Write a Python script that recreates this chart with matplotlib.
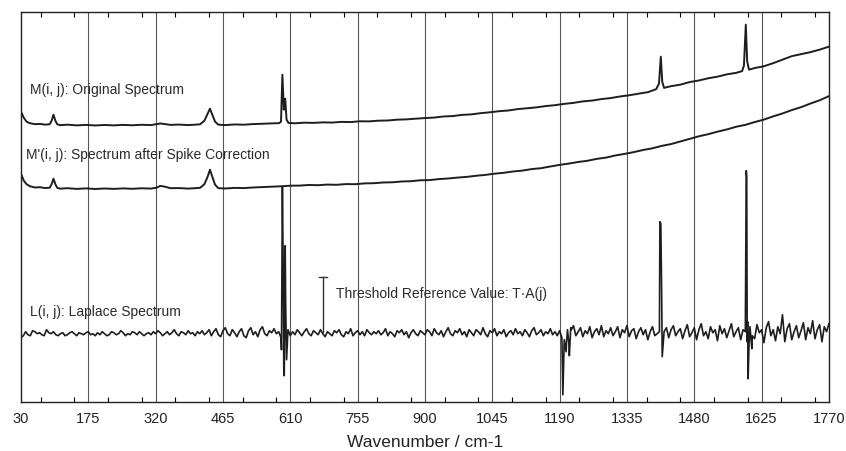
import numpy as np
import matplotlib
matplotlib.use("Agg")
import matplotlib.pyplot as plt
from matplotlib.ticker import MultipleLocator

plt.rcParams['font.family'] = ['Liberation Sans', 'DejaVu Sans']

# x ticks
tick_pos = [30, 175, 320, 465, 610, 755, 900, 1045, 1190, 1335, 1480, 1625, 1770]

# M(i, j): original spectrum (wavenumber, intensity in arbitrary units)
m_wn = [30, 36, 42, 49, 60, 71, 82, 92, 96, 100, 104, 108, 114, 130, 150, 170, 190, 210,
        230, 250, 270, 290, 310, 322, 330, 340, 352, 370, 390, 405, 416, 425, 432, 437,
        442, 448, 455, 470, 490, 510, 530, 550, 570, 586, 590, 593, 596, 599, 602, 606,
        620, 640, 660, 680, 700, 720, 740, 760, 780, 800, 820, 840, 860, 880, 900, 920,
        940, 960, 980, 1000, 1020, 1040, 1060, 1080, 1100, 1120, 1140, 1160, 1180, 1200,
        1220, 1240, 1260, 1280, 1300, 1320, 1340, 1360, 1380, 1398, 1404, 1408, 1411,
        1415, 1430, 1450, 1470, 1490, 1510, 1530, 1550, 1570, 1583, 1587, 1591, 1594,
        1598, 1610, 1630, 1650, 1670, 1690, 1710, 1730, 1750, 1770]
m_val = [290, 284, 280, 278.5, 277.5, 277.8, 277, 277.5, 281, 287, 281, 277.5, 276.5, 277,
         276.3, 276.8, 276.2, 276.7, 276.3, 276.8, 276.4, 276.9, 276.6, 277.5, 278.2, 277.6,
         276.8, 277.1, 276.6, 277, 277.4, 281, 288, 293, 287, 280, 277, 276.6, 277.2, 277,
         277.6, 277.9, 278.3, 278.5, 280, 327, 292, 303, 282, 278.8, 278.4, 279, 278.8,
         279.3, 279.1, 279.8, 279.6, 280.4, 280.3, 281, 281.2, 282, 282.3, 283, 283.6,
         284.1, 285.2, 285.6, 286.8, 287.3, 288.5, 289.4, 290.5, 291.2, 292.6, 293.4, 294.3,
         295.6, 296.5, 297.8, 298.8, 300.3, 301.1, 302.6, 303.6, 305.2, 306.4, 308, 309.5,
         312.5, 318, 345, 320, 313.8, 315.5, 317, 319.6, 321.2, 323.4, 325, 327.3, 328.8,
         330.5, 336, 377, 340, 332, 333.6, 335.4, 338.5, 342, 345.5, 347.5, 349.5, 352, 355]

# M'(i, j): spectrum after spike correction
mc_wn = [30, 36, 42, 49, 60, 71, 82, 92, 96, 100, 104, 108, 114, 130, 150, 170, 190, 210,
         230, 250, 270, 290, 310, 322, 330, 340, 352, 370, 390, 405, 416, 425, 432, 437,
         442, 448, 455, 470, 490, 510, 530, 550, 570, 590, 610, 630, 650, 670, 690, 710,
         730, 750, 770, 790, 810, 830, 850, 870, 890, 910, 930, 950, 970, 990, 1010, 1030,
         1050, 1070, 1090, 1110, 1130, 1150, 1170, 1190, 1210, 1230, 1250, 1270, 1290,
         1310, 1330, 1350, 1370, 1390, 1410, 1430, 1450, 1470, 1490, 1510, 1530, 1550,
         1570, 1590, 1610, 1630, 1650, 1670, 1690, 1710, 1730, 1750, 1770]
mc_val = [228, 221, 217.5, 215.5, 214.2, 214.5, 213.6, 214, 217.5, 223, 217.5, 214, 213,
          213.5, 212.8, 213.3, 212.7, 213.2, 212.8, 213.3, 212.9, 213.4, 213.1, 214, 215.8,
          215, 213.5, 213.6, 213.1, 213.5, 213.9, 217.5, 225, 232, 225, 217, 213.5, 213.2,
          213.8, 213.6, 214.2, 214.6, 215, 215.4, 216, 216.1, 216.7, 216.5, 217.1, 216.9,
          217.6, 217.5, 218.3, 218.5, 219.2, 219.4, 220.2, 220.5, 221.4, 221.6, 222.6,
          223.2, 224.1, 224.8, 225.9, 226.8, 228, 228.9, 230.2, 231.1, 232.6, 233.5, 235.2,
          236.8, 238.1, 239.7, 240.9, 242.8, 244.1, 246.2, 247.8, 249.6, 251.7, 253.4,
          255.8, 257.6, 260.2, 262.8, 265.4, 267.5, 270, 272.2, 274.9, 276.8, 279.6, 282.1,
          285.3, 288.2, 291.6, 294.5, 298.1, 301.4, 305.5]

# L(i, j): Laplace spectrum, sampled every 5 cm-1 from 30 to 1770
lap_wn = list(range(30, 1771, 5))
lap_val = [64, 66, 70, 67, 66, 71, 70, 68, 69, 67, 66, 72, 69, 68,
           70, 67, 66, 68, 69, 66, 67, 69, 70, 68, 66, 69, 68, 67, 69, 70, 67, 68, 66, 69,
           67, 70, 68, 66, 67, 70, 69, 67, 68, 71, 69, 66, 68, 67, 70, 69, 67, 70, 68, 66,
           68, 69, 67, 70, 68, 71, 69, 66, 68, 70, 67, 69, 72, 68, 66, 70, 69, 67, 71, 68,
           69, 66, 70, 68, 71, 67, 69, 72, 66, 70, 73, 67, 65, 71, 74, 68, 66, 72, 69, 65,
           70, 73, 66, 64, 71, 74, 67, 70, 65, 72, 75, 68, 66, 71, 69, 73, 68, 70, 64, 120,
           100, 72, 66, 70, 67, 72, 69, 66, 70, 73, 68, 66, 71, 69, 67, 72, 68, 65, 70, 68,
           66, 71, 69, 72, 67, 65, 70, 68, 73, 66, 69, 71, 67, 70, 66, 72, 69, 67, 70, 68,
           71, 67, 69, 73, 66, 70, 68, 65, 71, 69, 72, 67, 70, 64, 69, 72, 68, 66, 71, 69,
           67, 72, 70, 66, 73, 69, 67, 71, 65, 70, 74, 68, 66, 71, 69, 73, 67, 70, 65, 72,
           69, 66, 72, 70, 67, 74, 68, 65, 71, 69, 73, 66, 70, 68, 72, 65, 69, 71, 67, 73,
           68, 70, 66, 72, 69, 65, 71, 74, 67, 69, 72, 66, 70, 68, 73, 67, 70, 66, 71, 64,
           62, 60, 58, 72, 76, 66, 70, 74, 65, 71, 68, 75, 64, 70, 73, 67, 76, 65, 71, 68,
           74, 66, 70, 75, 64, 72, 69, 76, 65, 71, 73, 63, 70, 74, 67, 72, 62, 70, 75, 66,
           68, 70, 100, 70, 74, 64, 72, 76, 66, 70, 73, 63, 71, 77, 65, 69, 74, 62, 72, 78,
           66, 70, 63, 75, 69, 72, 61, 76, 68, 73, 64, 71, 78, 65, 70, 74, 62, 72, 70, 80,
           75, 66, 63, 77, 69, 72, 59, 74, 80, 66, 72, 61, 75, 68, 87, 60, 73, 78, 62, 70,
           76, 64, 71, 79, 62, 74, 68, 81, 63, 72, 77, 60, 75, 70, 78]
# spike samples of the Laplace spectrum
spike_wn = [591, 593, 596, 597, 599, 602, 1197, 1204, 1207, 1211, 1214,
            1406, 1408, 1411, 1592, 1593, 1594, 1596, 1598, 1604]
spike_val = [52, 215, 30, 26, 156, 42, 7, 50, 72, 46, 74,
             180, 178, 45, 231, 225, 60, 23, 58, 53]

# threshold marker T*A(j)
thr_wn = 680
thr_base = 70
thr_top = 125

lx = np.array(lap_wn + spike_wn)
ly = np.array(lap_val + spike_val)
order = np.argsort(lx, kind='stable')

fig = plt.figure(figsize=(8.46, 4.52), dpi=100)
ax = fig.add_axes([0.0248, 0.109, 0.955, 0.863])

for t in tick_pos[1:-1]:
    ax.axvline(t, color='#555555', lw=0.8, zorder=1)

line_kw = dict(color='#1e1e1e', lw=1.4, zorder=3)
ax.plot(m_wn, m_val, **line_kw)
ax.plot(mc_wn, mc_val, **line_kw)
ax.plot(lx[order], ly[order], color='#1e1e1e', lw=1.2, zorder=3)

ax.plot([thr_wn, thr_wn], [thr_base, thr_top], color='#333333', lw=1.0, zorder=3)
ax.plot([thr_wn - 8, thr_wn + 8], [thr_top, thr_top], color='#333333', lw=1.0, zorder=3)

txt_kw = dict(fontsize=10, va='center', color='#2a2a2a')
ax.text(49, 313, "M(i, j): Original Spectrum", **txt_kw)
ax.text(41, 248, "M'(i, j): Spectrum after Spike Correction", **txt_kw)
ax.text(49, 91, "L(i, j): Laplace Spectrum", **txt_kw)
ax.text(709, 109, "Threshold Reference Value: T\u00b7A(j)", **txt_kw)

ax.set_xlim(30, 1770)
ax.set_ylim(0, 390)
ax.set_xticks(tick_pos)
ax.set_xticklabels([str(t) for t in tick_pos])
ax.xaxis.set_minor_locator(MultipleLocator(72.5))
ax.set_yticks([])
ax.tick_params(axis='x', which='major', length=0, pad=7, labelsize=10.5, colors='#222222')
ax.tick_params(axis='x', which='minor', direction='in', length=3.5, width=0.8, top=True)
ax.set_xlabel("Wavenumber / cm-1", fontsize=12.5, labelpad=6, color='#222222')
for s in ax.spines.values():
    s.set_linewidth(1.0)
    s.set_color('#222222')

fig.savefig("out.png", dpi=100)
